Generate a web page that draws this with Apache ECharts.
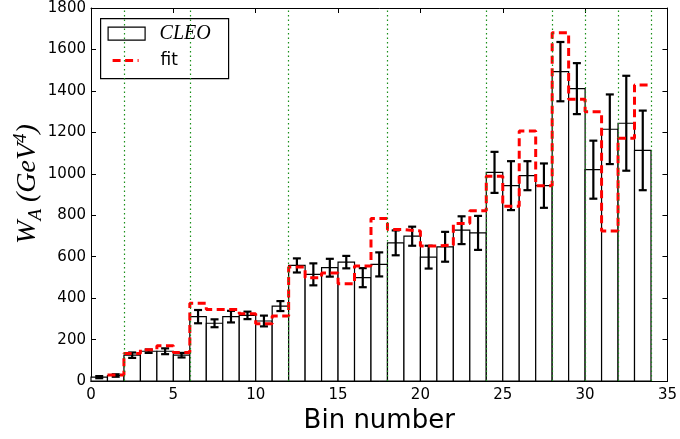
<!DOCTYPE html>
<html>
<head>
<meta charset="utf-8">
<script src="https://cdn.jsdelivr.net/npm/echarts@6/dist/echarts.min.js"></script>
<style>
  html, body { margin: 0; padding: 0; background: #fff; }
  #chart { width: 680px; height: 439px; }
</style>
</head>
<body>
<div id="chart"></div>
<script type="text/javascript">
// CLEO data per bin (bin i spans [i, i+1])
var cleoValues = [19, 27, 125, 144, 144, 125, 311, 279, 311, 317, 290, 362, 558, 515, 547, 574, 499, 563,
                  667, 699, 598, 648, 728, 715, 1007, 943, 991, 943, 1493, 1411, 1020, 1215, 1244, 1113];
var cleoErrors = [5, 6, 13, 8, 14, 11, 32, 19, 28, 18, 26, 24, 34, 53, 43, 30, 46, 58,
                  60, 46, 55, 72, 67, 82, 99, 118, 70, 107, 143, 123, 140, 168, 229, 192];
// fit per bin, starting at bin 1
var fitStart = 1;
var fitValues  = [30, 133, 151, 170, 138, 375, 346, 346, 325, 277, 314, 550, 499, 522, 470, 555, 785,
                  731, 724, 652, 656, 760, 822, 988, 843, 1207, 943, 1680, 1360, 1300, 724, 1172, 1429];
// green dotted separators
var dividers = [2, 6, 12, 18, 24, 28, 30, 32, 34];
var xTicks = [0, 5, 10, 15, 20, 25, 30, 35];
var yTicks = [0, 200, 400, 600, 800, 1000, 1200, 1400, 1600, 1800];

var chart = echarts.init(document.getElementById('chart'));

var barData = cleoValues.map(function (v, i) { return [i, v]; });
var errData = cleoValues.map(function (v, i) { return [i + 0.5, v - cleoErrors[i], v + cleoErrors[i]]; });
var fitData = fitValues.map(function (v, i) { return [i + fitStart, v]; });
fitData.push([fitValues.length + fitStart, fitValues[fitValues.length - 1]]);

var tickStyle = { inside: true, length: 5, lineStyle: { color: '#000', width: 1 } };
var lineStyleAxis = { show: true, onZero: false, lineStyle: { color: '#000', width: 1 } };

var option = {
    animation: false,
    backgroundColor: '#fff',
    grid: { left: 91, right: 12, top: 8, bottom: 57 },
    xAxis: [
        {
            type: 'value', min: xTicks[0], max: xTicks[xTicks.length - 1], interval: 5,
            axisLine: lineStyleAxis, axisTick: tickStyle,
            axisLabel: { color: '#000', fontSize: 15, fontFamily: 'DejaVu Sans', margin: 7 },
            splitLine: { show: false },
            name: 'Bin number', nameLocation: 'middle', nameGap: 21,
            nameTextStyle: { color: '#000', fontSize: 26, fontFamily: 'DejaVu Sans', verticalAlign: 'top' }
        },
        {
            type: 'value', position: 'top', min: 0, max: 35, interval: 5,
            axisLine: lineStyleAxis, axisTick: tickStyle,
            axisLabel: { show: false }, splitLine: { show: false }
        }
    ],
    yAxis: [
        {
            type: 'value', min: yTicks[0], max: yTicks[yTicks.length - 1], interval: 200,
            axisLine: lineStyleAxis, axisTick: tickStyle,
            axisLabel: {
                color: '#000', fontSize: 15, fontFamily: 'DejaVu Sans', margin: 5,
                formatter: function (v) { return String(v); }
            },
            splitLine: { show: false }
        },
        {
            type: 'value', position: 'right', min: 0, max: 1800, interval: 200,
            axisLine: lineStyleAxis, axisTick: tickStyle,
            axisLabel: { show: false }, splitLine: { show: false }
        }
    ],
    series: [
        {
            name: 'CLEO',
            type: 'custom',
            z: 2,
            data: barData,
            encode: { x: 0, y: 1 },
            renderItem: function (params, api) {
                var i = api.value(0), v = api.value(1);
                var p0 = api.coord([i, 0]);
                var p1 = api.coord([i + 1, v]);
                return {
                    type: 'rect',
                    shape: { x: p0[0], y: p1[1], width: p1[0] - p0[0], height: p0[1] - p1[1] },
                    style: { fill: '#fff', stroke: '#000', lineWidth: 1.2 }
                };
            },
            markLine: {
                silent: true,
                symbol: 'none',
                label: { show: false },
                lineStyle: { color: '#1a8f1a', width: 1.2, type: [1.5, 3] },
                data: dividers.map(function (x) { return { xAxis: x }; })
            }
        },
        {
            name: 'fit',
            type: 'line',
            z: 4,
            step: 'end',
            showSymbol: false,
            data: fitData,
            lineStyle: { color: '#ff0000', width: 3, type: [8, 4.5] }
        },
        {
            name: 'errors',
            type: 'custom',
            z: 3,
            data: errData,
            encode: { x: 0, y: [1, 2] },
            renderItem: function (params, api) {
                var x = api.value(0);
                var lo = api.coord([x, api.value(1)]);
                var hi = api.coord([x, api.value(2)]);
                var cap = 4;
                var st = { stroke: '#000', lineWidth: 2.2 };
                return {
                    type: 'group',
                    children: [
                        { type: 'line', shape: { x1: lo[0], y1: lo[1], x2: hi[0], y2: hi[1] }, style: st },
                        { type: 'line', shape: { x1: lo[0] - cap, y1: lo[1], x2: lo[0] + cap, y2: lo[1] }, style: st },
                        { type: 'line', shape: { x1: hi[0] - cap, y1: hi[1], x2: hi[0] + cap, y2: hi[1] }, style: st }
                    ]
                };
            }
        }
    ],
    graphic: [
        {
            type: 'text',
            x: 28, y: 184,
            rotation: Math.PI / 2,
            style: {
                text: '{w|W}{s|A}{p| (GeV}{e|4}{p|)}',
                align: 'center',
                verticalAlign: 'middle',
                fill: '#000',
                rich: {
                    w: { fontFamily: 'Liberation Serif', fontStyle: 'italic', fontSize: 28, lineHeight: 34, verticalAlign: 'middle' },
                    s: { fontFamily: 'Liberation Serif', fontStyle: 'italic', fontSize: 19, lineHeight: 34, verticalAlign: 'bottom' },
                    p: { fontFamily: 'Liberation Serif', fontStyle: 'italic', fontSize: 28, lineHeight: 34, verticalAlign: 'middle' },
                    e: { fontFamily: 'Liberation Serif', fontStyle: 'italic', fontSize: 19, lineHeight: 34, verticalAlign: 'top' }
                }
            }
        },
        {
            type: 'group',
            left: 100, top: 18,
            children: [
                { type: 'rect', shape: { x: 0, y: 0, width: 128, height: 60 }, style: { fill: '#fff', stroke: '#000', lineWidth: 1.2 } },
                { type: 'rect', shape: { x: 7.5, y: 8.5, width: 37, height: 13 }, style: { fill: '#fff', stroke: '#000', lineWidth: 1.2 } },
                { type: 'text', x: 59, y: 15, style: { text: 'CLEO', fontFamily: 'Liberation Serif', fontStyle: 'italic', fontSize: 20, fill: '#000', verticalAlign: 'middle' } },
                { type: 'line', shape: { x1: 12, y1: 42, x2: 38, y2: 42 }, style: { stroke: '#ff0000', lineWidth: 3, lineDash: [8, 4.5] } },
                { type: 'text', x: 60, y: 42, style: { text: 'fit', fontFamily: 'DejaVu Sans', fontSize: 17, fill: '#000', verticalAlign: 'middle' } }
            ]
        }
    ]
};

chart.setOption(option);
</script>
</body>
</html>
